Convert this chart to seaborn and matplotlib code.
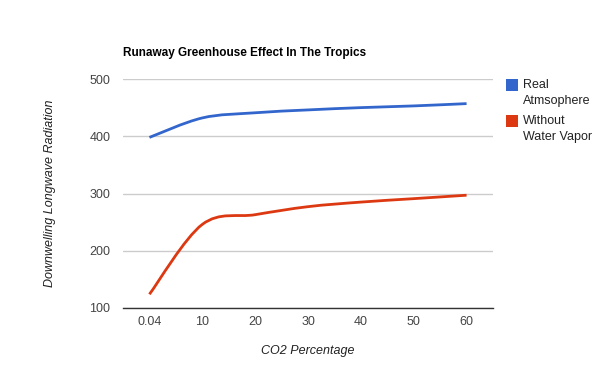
"""
Runaway greenhouse effect in the tropics: downwelling longwave radiation
versus CO2 percentage, with and without water vapor.
"""

import numpy as np
import pandas as pd
import matplotlib
matplotlib.use("Agg")
import matplotlib.pyplot as plt
import seaborn as sns
from matplotlib.path import Path
from matplotlib.patches import PathPatch, Rectangle

# ------------------------------------------------------------
# Data
# ------------------------------------------------------------
co2_labels = ["0.04", "10", "20", "30", "40", "50", "60"]
real_atmosphere = [398, 432, 441, 446, 450, 453, 457]
without_water_vapor = [124, 246, 263, 277, 285, 291, 297]
series_names = ["Real\nAtmsophere", "Without\nWater Vapor"]
y_ticks = [100, 200, 300, 400, 500]

BLUE = "#3366cc"
RED = "#dc3912"
W, H = 600, 371

df = pd.DataFrame(
    {
        "co2": co2_labels * 2,
        "radiation": real_atmosphere + without_water_vapor,
        "series": [series_names[0]] * len(co2_labels)
        + [series_names[1]] * len(co2_labels),
    }
)

sns.set_theme(style="white")
plt.rcParams["font.family"] = ["Liberation Sans", "DejaVu Sans"]

fig = plt.figure(figsize=(W / 100, H / 100), dpi=100)
ax = fig.add_axes([123 / W, 63 / H, 370 / W, 229 / H])

sns.lineplot(
    data=df,
    x="co2",
    y="radiation",
    hue="series",
    palette=[BLUE, RED],
    sort=False,
    legend=False,
    ax=ax,
)


def smooth_path(xy, k=1.0):
    """Catmull-Rom style cubic Bezier through the given vertices."""
    pts = np.asarray(xy, dtype=float)
    n = len(pts)
    verts = [pts[0]]
    codes = [Path.MOVETO]
    for i in range(n - 1):
        p0 = pts[max(i - 1, 0)]
        p1 = pts[i]
        p2 = pts[i + 1]
        p3 = pts[min(i + 2, n - 1)]
        c1 = p1 + (p2 - p0) * k / 6
        c2 = p2 - (p3 - p1) * k / 6
        verts += [c1, c2, p2]
        codes += [Path.CURVE4] * 3
    return Path(verts, codes)


# Redraw seaborn's straight segments as smooth curves (Google "function" style)
for line in ax.get_lines():
    xy = line.get_xydata()
    color = line.get_color()
    line.set_visible(False)
    ax.add_patch(
        PathPatch(smooth_path(xy), facecolor="none", edgecolor=color,
                  linewidth=2, capstyle="butt", joinstyle="round")
    )

ax.set_xlim(-0.5, len(co2_labels) - 0.5)
ax.set_ylim(100, 500)
ax.set_yticks(y_ticks)
ax.set_yticklabels([str(t) for t in y_ticks])
ax.tick_params(axis="both", length=0, labelsize=9, colors="#444444")
ax.tick_params(axis="y", pad=9)
ax.tick_params(axis="x", pad=6)

ax.grid(True, axis="y", color="#cccccc", linewidth=1)
ax.set_axisbelow(True)
for side in ["top", "right", "left"]:
    ax.spines[side].set_visible(False)
ax.spines["bottom"].set_color("#333333")
ax.spines["bottom"].set_linewidth(1)

ax.set_xlabel("CO2 Percentage", fontsize=9, fontstyle="italic",
              color="#222222")
ax.xaxis.set_label_coords(0.5, -(345 - 308) / 229)
ax.set_ylabel("Downwelling Longwave Radiation", fontsize=9,
              fontstyle="italic", color="#222222")
ax.yaxis.set_label_coords(-(123 - 56) / 370, 0.5)

fig.text(123 / W, 1 - 53 / H, "Runaway Greenhouse Effect In The Tropics",
         fontsize=8.5, fontweight="bold", color="#000000",
         va="center", ha="left")

# Legend: square swatch + two-line label, Google Charts style
for i, (name, color) in enumerate(zip(series_names, [BLUE, RED])):
    top = 79 + i * 36
    fig.patches.append(
        Rectangle((506 / W, 1 - (top + 11.5) / H), 11.5 / W, 11.5 / H,
                  transform=fig.transFigure, facecolor=color,
                  edgecolor="none", figure=fig)
    )
    for j, part in enumerate(name.split("\n")):
        fig.text(523 / W, 1 - (top + 6 + j * 15.7) / H, part,
                 fontsize=9, color="#222222", va="center", ha="left")

fig.savefig("out.png", dpi=100)
plt.close(fig)
